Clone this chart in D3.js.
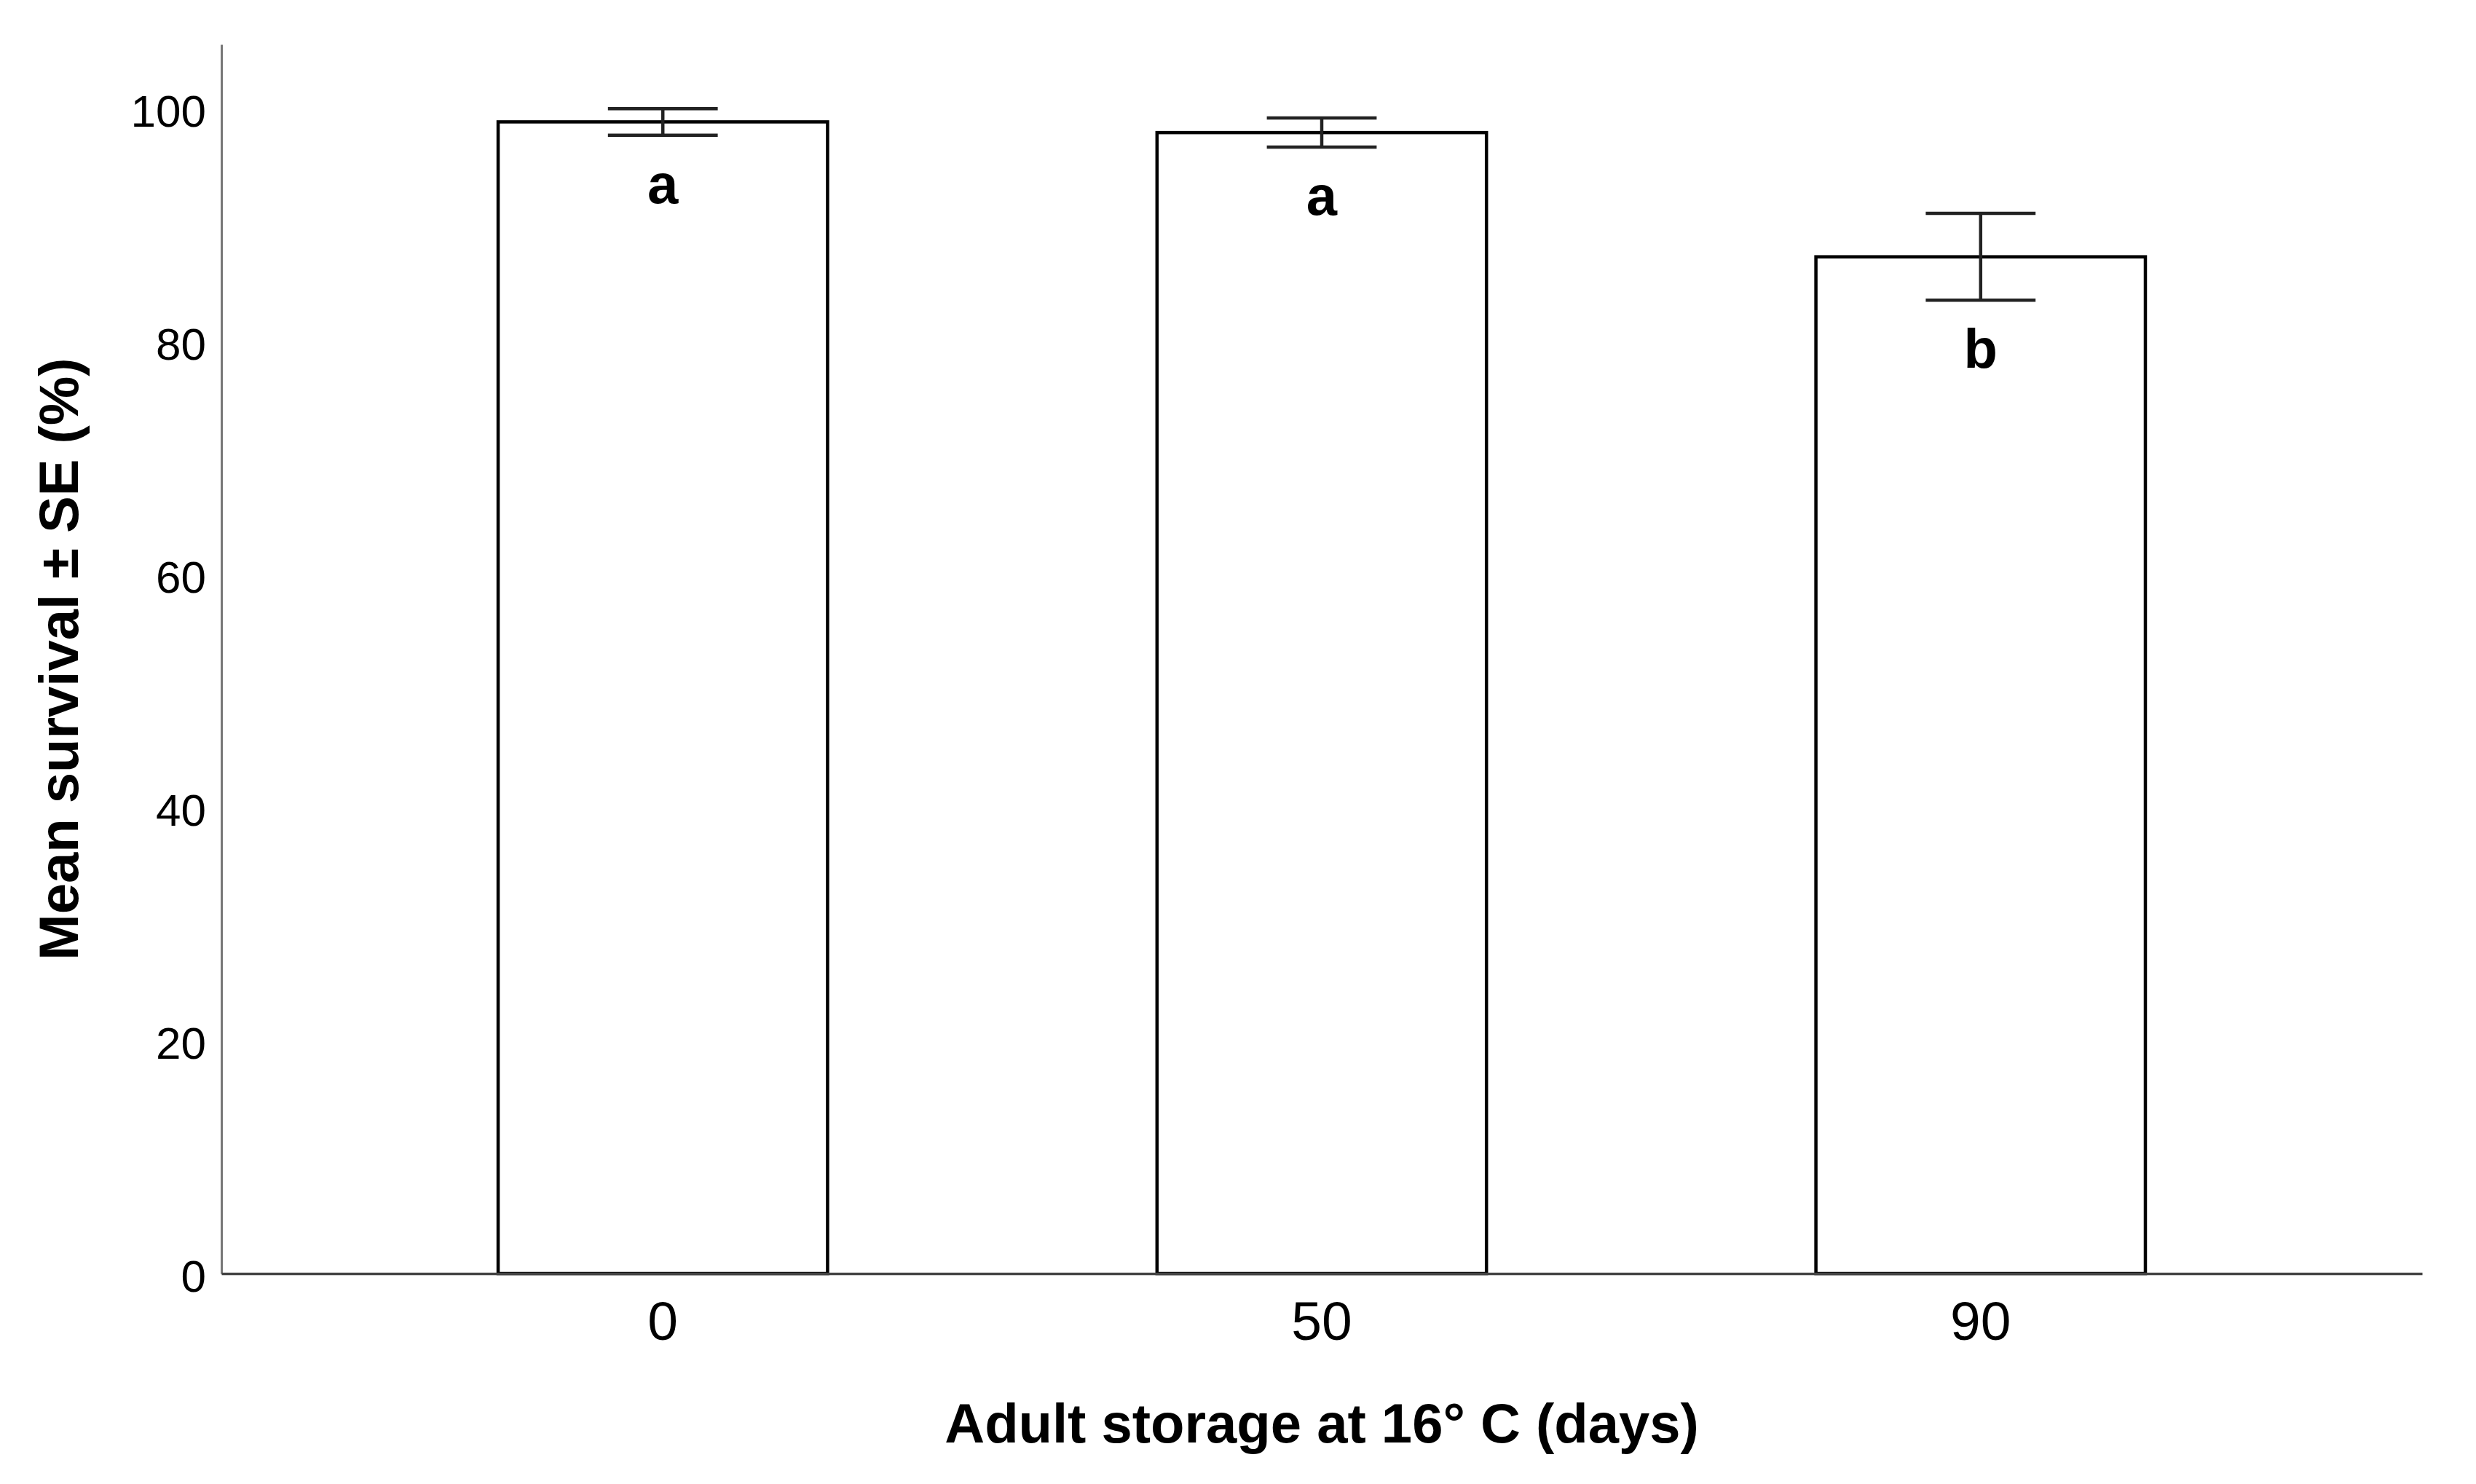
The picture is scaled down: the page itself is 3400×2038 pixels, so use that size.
<!DOCTYPE html>
<html>
<head>
<meta charset="utf-8">
<script src="https://cdn.jsdelivr.net/npm/d3@7"></script>
<style>
  body { margin: 0; background: #fff; }
  svg { display: block; font-family: "Liberation Sans", Arial, sans-serif; }
</style>
</head>
<body>
<svg id="chart" width="3400" height="2038"></svg>
<script>
// values
var storageDays = ["0", "50", "90"];
var meanSurvival = [98.85, 97.93, 87.27];
var seSurvival = [1.14, 1.25, 3.73];
var groupLetters = ["a", "a", "b"];
var yTicks = [0, 20, 40, 60, 80, 100];

var svg = d3.select("#chart");

var x = d3.scaleBand()
    .domain(storageDays)
    .range([304, 3326])
    .paddingInner(0.5)
    .paddingOuter(0.42);

var y = d3.scaleLinear()
    .domain([0, 105.5])
    .range([1749, 61]);

var rows = storageDays.map(function(d, i){
    return {day: d, mean: meanSurvival[i], se: seSurvival[i], letter: groupLetters[i]};
});

// y axis (grey line, no tick marks)
var yAxis = svg.append("g")
    .attr("transform", "translate(304,0)")
    .call(d3.axisLeft(y).tickValues(yTicks).tickSize(0).tickSizeOuter(0).tickPadding(21));
yAxis.select(".domain").attr("stroke", "#777").attr("stroke-width", 3);
yAxis.selectAll("text")
    .attr("font-size", 62)
    .attr("fill", "#000")
    .attr("dy", "0.4em")
    .style("font-family", "'Liberation Sans', Arial, sans-serif");

// bars
svg.append("g").selectAll("rect")
    .data(rows)
    .join("rect")
    .attr("x", function(d){ return x(d.day); })
    .attr("y", function(d){ return y(d.mean); })
    .attr("width", x.bandwidth())
    .attr("height", function(d){ return y(0) - y(d.mean); })
    .attr("fill", "#fff")
    .attr("stroke", "#000")
    .attr("stroke-width", 4.5);

// x axis drawn over the bar bottoms
var xAxis = svg.append("g")
    .attr("transform", "translate(0,1749)")
    .call(d3.axisBottom(x).tickSize(0).tickSizeOuter(0).tickPadding(38));
xAxis.select(".domain").attr("stroke", "#444").attr("stroke-width", 3.5);
xAxis.selectAll("text")
    .attr("font-size", 75)
    .attr("fill", "#000")
    .style("font-family", "'Liberation Sans', Arial, sans-serif");

// error bars
var capW = x.bandwidth() / 3;
var err = svg.append("g").attr("stroke", "#222").attr("stroke-width", 4.5);
rows.forEach(function(d){
    var cx = x(d.day) + x.bandwidth() / 2;
    err.append("line")
        .attr("x1", cx).attr("x2", cx)
        .attr("y1", y(d.mean + d.se)).attr("y2", y(d.mean - d.se));
    err.append("line")
        .attr("x1", cx - capW / 2).attr("x2", cx + capW / 2)
        .attr("y1", y(d.mean + d.se)).attr("y2", y(d.mean + d.se));
    err.append("line")
        .attr("x1", cx - capW / 2).attr("x2", cx + capW / 2)
        .attr("y1", y(d.mean - d.se)).attr("y2", y(d.mean - d.se));
});

// significance letters
svg.append("g").selectAll("text")
    .data(rows)
    .join("text")
    .attr("x", function(d){ return x(d.day) + x.bandwidth() / 2; })
    .attr("y", function(d){ return y(d.mean - d.se) + 93; })
    .attr("text-anchor", "middle")
    .attr("font-size", 76)
    .attr("font-weight", "bold")
    .text(function(d){ return d.letter; });

// axis titles
svg.append("text")
    .attr("x", (304 + 3326) / 2)
    .attr("y", 1981)
    .attr("text-anchor", "middle")
    .attr("font-size", 76)
    .attr("font-weight", "bold")
    .text("Adult storage at 16° C (days)");

svg.append("text")
    .attr("transform", "translate(107," + ((61 + 1749) / 2) + ") rotate(-90)")
    .attr("text-anchor", "middle")
    .attr("font-size", 76)
    .attr("font-weight", "bold")
    .text("Mean survival ± SE (%)");
</script>
</body>
</html>
